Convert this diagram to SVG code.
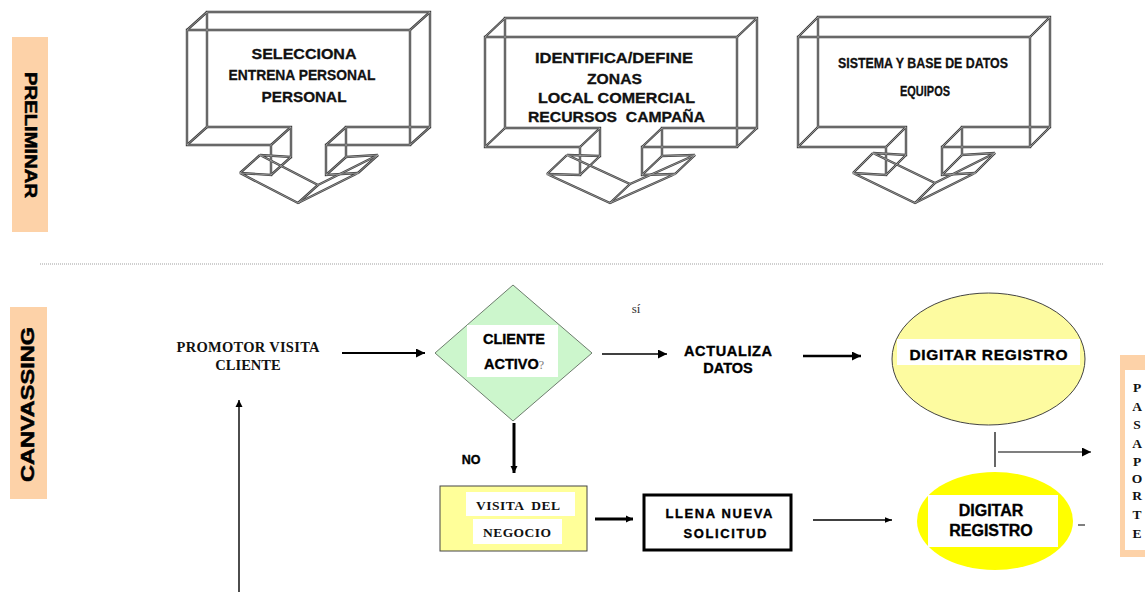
<svg xmlns="http://www.w3.org/2000/svg" width="1145" height="592" viewBox="0 0 1145 592">
  <defs>
    <style>
      .wire { fill: none; stroke: #404040; stroke-width: 2.4; stroke-linejoin: miter; }
      .wire-in { fill: none; stroke: #b4b4b4; stroke-width: 0.7; }
      .ctext { font-family: "Liberation Sans", Arial, sans-serif; font-weight: bold; font-size: 15px; fill: #111; stroke: #111; stroke-width: 0.3; text-anchor: middle; }
      .band { fill: #fdd2a8; }
      .btext { font-family: "Liberation Sans", Arial, sans-serif; font-weight: bold; fill: #000; stroke: #000; stroke-width: 0.5; text-anchor: middle; }
      .sans { font-family: "Liberation Sans", Arial, sans-serif; font-weight: bold; fill: #000; stroke: #000; stroke-width: 0.35; text-anchor: middle; }
      .serif { font-family: "Liberation Serif", "Times New Roman", serif; font-weight: bold; fill: #111; text-anchor: middle; }
      .ln { fill: none; stroke: #000; }
      .panel { fill: #fff; }
    </style>
    <marker id="ah" viewBox="0 0 10 10" refX="10" refY="5" markerUnits="userSpaceOnUse" markerWidth="10" markerHeight="9" orient="auto">
      <path d="M0,0 L10,5 L0,10 z" fill="#000"/>
    </marker>
    <marker id="ahs" viewBox="0 0 10 10" refX="10" refY="5" markerUnits="userSpaceOnUse" markerWidth="7" markerHeight="8" orient="auto">
      <path d="M0,0 L10,5 L0,10 z" fill="#000"/>
    </marker>
    <marker id="ahl" viewBox="0 0 10 10" refX="10" refY="5" markerUnits="userSpaceOnUse" markerWidth="16" markerHeight="7" orient="auto">
      <path d="M0,1 L10,5 L0,9 z" fill="#000"/>
    </marker>

    <!-- wireframe geometry of the three extruded callouts: back face, depth edges, front face -->
    <g id="wire-1">
      <path d="M207,12 H430 V127 H346 V157 L378,155 L318,185 L260,155 L291,157 V127 H207 Z"/>
      <path d="M187,30 L207,12 M410,30 L430,12 M410,145 L430,127 M326,145 L346,127 M326,175 L346,157 M358,173 L378,155 M298,203 L318,185 M240,173 L260,155 M271,175 L291,157 M271,145 L291,127 M187,145 L207,127"/>
      <path d="M187,30 H410 V145 H326 V175 L358,173 L298,203 L240,173 L271,175 V145 H187 Z"/>
    </g>
    <g id="wire-2">
      <path d="M505,18 H757 V128 H662 V156 L695,155 L630,184 L567,155 L600,156 V128 H505 Z"/>
      <path d="M485,37 L505,18 M737,37 L757,18 M737,147 L757,128 M642,147 L662,128 M642,175 L662,156 M675,174 L695,155 M610,203 L630,184 M547,174 L567,155 M580,175 L600,156 M580,147 L600,128 M485,147 L505,128"/>
      <path d="M485,37 H737 V147 H642 V175 L675,174 L610,203 L547,174 L580,175 V147 H485 Z"/>
    </g>
    <g id="wire-3">
      <path d="M818,17 H1050 V127 H962 V155 L995,153 L935,183 L873,153 L906,155 V127 H818 Z"/>
      <path d="M798,37 L818,17 M1030,37 L1050,17 M1030,147 L1050,127 M942,147 L962,127 M942,175 L962,155 M975,173 L995,153 M915,203 L935,183 M853,173 L873,153 M886,175 L906,155 M886,147 L906,127 M798,147 L818,127"/>
      <path d="M798,37 H1030 V147 H942 V175 L975,173 L915,203 L853,173 L886,175 V147 H798 Z"/>
    </g>
  </defs>

  <rect width="1145" height="592" fill="#fff"/>

  <!-- stage bands -->
  <g id="band-preliminar">
    <rect class="band" x="12" y="37" width="36" height="195"/>
    <text class="btext" transform="translate(24.5,135) rotate(90)" font-size="17" textLength="126" lengthAdjust="spacingAndGlyphs">PRELIMINAR</text>
  </g>
  <g id="band-canvassing">
    <rect class="band" x="10" y="307" width="37" height="192"/>
    <text class="btext" transform="translate(34,404.5) rotate(-90)" font-size="18.5" textLength="155" lengthAdjust="spacingAndGlyphs">CANVASSING</text>
  </g>

  <!-- stage separator -->
  <line x1="40" y1="264" x2="1103" y2="264" stroke="#a0a0a0" stroke-width="1.2" stroke-dasharray="1 1"/>

  <!-- 3D callout: selecciona -->
  <g id="callout-selecciona">
    <use href="#wire-1" class="wire"/>
    <use href="#wire-1" class="wire-in"/>
    <text class="ctext" x="304" y="58.5" textLength="105" lengthAdjust="spacingAndGlyphs">SELECCIONA</text>
    <text class="ctext" x="302" y="80" textLength="147" lengthAdjust="spacingAndGlyphs">ENTRENA PERSONAL</text>
    <text class="ctext" x="304" y="101.5" textLength="85" lengthAdjust="spacingAndGlyphs">PERSONAL</text>
  </g>

  <!-- 3D callout: zonas -->
  <g id="callout-zonas">
    <use href="#wire-2" class="wire"/>
    <use href="#wire-2" class="wire-in"/>
    <text class="ctext" x="614" y="63" textLength="158" lengthAdjust="spacingAndGlyphs">IDENTIFICA/DEFINE</text>
    <text class="ctext" x="614.5" y="84" textLength="55" lengthAdjust="spacingAndGlyphs">ZONAS</text>
    <text class="ctext" x="616.5" y="103" textLength="157" lengthAdjust="spacingAndGlyphs">LOCAL COMERCIAL</text>
    <text class="ctext" x="616.5" y="122" textLength="177" lengthAdjust="spacingAndGlyphs" xml:space="preserve">RECURSOS  CAMPAÑA</text>
  </g>

  <!-- 3D callout: sistema -->
  <g id="callout-sistema">
    <use href="#wire-3" class="wire"/>
    <use href="#wire-3" class="wire-in"/>
    <text class="ctext" x="923" y="68" font-size="14" textLength="170" lengthAdjust="spacingAndGlyphs">SISTEMA Y BASE DE DATOS</text>
    <text class="ctext" x="925" y="96" font-size="14" textLength="50" lengthAdjust="spacingAndGlyphs">EQUIPOS</text>
  </g>

  <!-- canvassing flow -->
  <g id="promotor">
    <text class="serif" x="248" y="352" font-size="14.5" textLength="143">PROMOTOR VISITA</text>
    <text class="serif" x="248" y="370" font-size="14.5">CLIENTE</text>
  </g>

  <g id="cliente-activo">
    <polygon points="513,285 592,353 513,421 435,353" fill="#ccf6cc" stroke="#6e7d6e" stroke-width="1"/>
    <rect class="panel" x="467" y="325" width="91" height="52"/>
    <text class="sans" x="514" y="344" font-size="14.5">CLIENTE</text>
    <text class="sans" x="514" y="369" font-size="14.5">ACTIVO<tspan font-family="Liberation Serif, serif" font-weight="normal" font-size="12" fill="#777" stroke="none">?</tspan></text>
  </g>

  <g id="label-si">
    <text x="636" y="313" font-family="Liberation Serif, serif" font-size="13" fill="#333" text-anchor="middle">sí</text>
  </g>

  <g id="actualiza">
    <text class="sans" x="728" y="356" font-size="14.5" textLength="88">ACTUALIZA</text>
    <text class="sans" x="728" y="373" font-size="14.5">DATOS</text>
  </g>

  <g id="digitar-1">
    <ellipse cx="988.5" cy="359" rx="96.5" ry="66" fill="#fdfba0" stroke="#444" stroke-width="1"/>
    <rect class="panel" x="897" y="339" width="183" height="26"/>
    <text class="sans" x="988.5" y="359.5" font-size="15.5" textLength="158">DIGITAR REGISTRO</text>
  </g>

  <g id="label-no">
    <text class="sans" x="471" y="464" font-size="12.5">NO</text>
  </g>

  <g id="visita-negocio">
    <rect x="440" y="486" width="147" height="65" fill="#ffff99" stroke="#444" stroke-width="1"/>
    <rect class="panel" x="466" y="492" width="109" height="24"/>
    <rect class="panel" x="473" y="519" width="89" height="25"/>
    <text class="serif" x="518" y="510" font-size="13.5" textLength="84" xml:space="preserve">VISITA  DEL</text>
    <text class="serif" x="517" y="537" font-size="13.5" textLength="68">NEGOCIO</text>
  </g>

  <g id="llena-solicitud">
    <rect x="644" y="495" width="147" height="55" fill="#fff" stroke="#000" stroke-width="3"/>
    <text class="sans" x="719" y="517.5" font-size="13" textLength="107">LLENA NUEVA</text>
    <text class="sans" x="725" y="537.5" font-size="13" textLength="83">SOLICITUD</text>
  </g>

  <g id="digitar-2">
    <ellipse cx="995" cy="521" rx="78" ry="49" fill="#ffff00"/>
    <rect class="panel" x="928" y="495" width="130" height="52"/>
    <text class="sans" x="991" y="516" font-size="16">DIGITAR</text>
    <text class="sans" x="991" y="535.5" font-size="16">REGISTRO</text>
  </g>

  <g id="pasaporte">
    <rect x="1120" y="355" width="30" height="202" fill="#fdd2a8"/>
    <rect class="panel" x="1125" y="370" width="25" height="180"/>
    <g class="serif" font-size="13.5">
      <text x="1137" y="391.5">P</text>
      <text x="1137" y="410.5">A</text>
      <text x="1137" y="429">S</text>
      <text x="1137" y="447.5">A</text>
      <text x="1137" y="466">P</text>
      <text x="1137" y="482.5">O</text>
      <text x="1137" y="500">R</text>
      <text x="1137" y="518.5">T</text>
      <text x="1137" y="537.5">E</text>
    </g>
  </g>

  <!-- connectors -->
  <g id="connectors">
    <line class="ln" x1="342" y1="353" x2="425" y2="353" stroke-width="2" marker-end="url(#ah)"/>
    <line class="ln" x1="239" y1="592" x2="239" y2="400" stroke-width="1.4" marker-end="url(#ahs)"/>
    <line class="ln" x1="602" y1="354" x2="667" y2="354" stroke-width="1.3" marker-end="url(#ah)"/>
    <line class="ln" x1="803" y1="356" x2="861" y2="356" stroke-width="2.5" marker-end="url(#ah)"/>
    <line class="ln" x1="514" y1="423" x2="514" y2="473" stroke-width="3" marker-end="url(#ahs)"/>
    <line class="ln" x1="595" y1="519" x2="633" y2="519" stroke-width="3" marker-end="url(#ahs)"/>
    <line class="ln" x1="813" y1="520" x2="892" y2="520" stroke-width="1.3" marker-end="url(#ahl)"/>
    <line class="ln" x1="995" y1="432" x2="995" y2="467" stroke-width="1.2"/>
    <line class="ln" x1="998" y1="452" x2="1091" y2="452" stroke-width="1.2" marker-end="url(#ah)"/>
    <line class="ln" x1="1078" y1="525" x2="1085" y2="525" stroke-width="1"/>
  </g>
</svg>
